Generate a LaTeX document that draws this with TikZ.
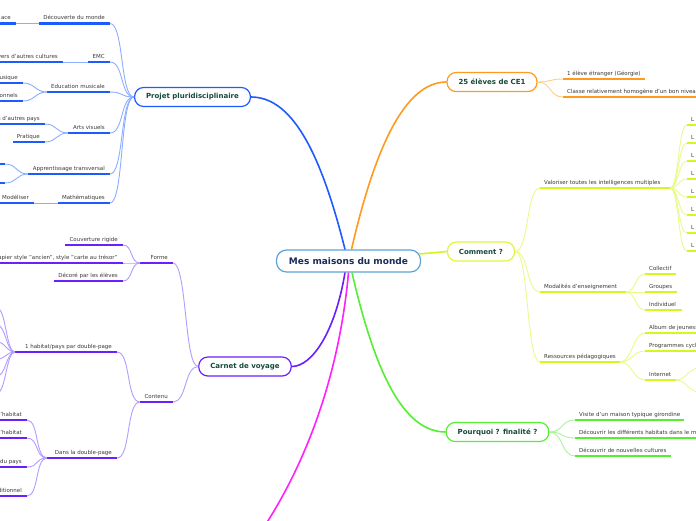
\documentclass[tikz,border=0pt]{standalone}
\usepackage{fontspec}
\setmainfont{DejaVu Sans}
\definecolor{blueM}{HTML}{1E5BFF}
\definecolor{blueL}{HTML}{8CAEFF}
\definecolor{orM}{HTML}{FF9A1F}
\definecolor{orL}{HTML}{FFCF85}
\definecolor{yeM}{HTML}{D7F51E}
\definecolor{yeL}{HTML}{E9FB8A}
\definecolor{yeN}{HTML}{E2F53A}
\definecolor{grM}{HTML}{55EE33}
\definecolor{grL}{HTML}{A8F59A}
\definecolor{puM}{HTML}{6A1FFF}
\definecolor{puL}{HTML}{B49CFF}
\definecolor{maM}{HTML}{FF1FFF}
\definecolor{ceB}{HTML}{5BA4DA}
\definecolor{ceT}{HTML}{1C2B59}
\definecolor{noT}{HTML}{164A3A}
\definecolor{leT}{HTML}{3A3A3A}
\newcommand\leafL[6]{%
 \coordinate (#1L) at (#2,#4);
 \coordinate (#1R) at (#3,#4);
 \draw[ul=#5] (#1L) -- (#1R);
 \node[lbl,anchor=base east] (#1) at ([shift={(-5,-4)}]#1R) {#6};}
\newcommand\leafR[6]{%
 \coordinate (#1L) at (#2,#4);
 \coordinate (#1R) at (#3,#4);
 \draw[ul=#5] (#1L) -- (#1R);
 \node[lbl,anchor=base west] (#1) at ([shift={(4,-4)}]#1L) {#6};}
\tikzset{
 lbl/.style={font=\fontsize{5.5}{6}\selectfont, text=leT, inner sep=0pt},
 ul/.style={line width=2.2pt, draw=#1},
 cn/.style={line width=0.9pt, draw=#1},
 toL/.style={out=180,in=0,distance=#1},
 toR/.style={out=0,in=180,distance=#1},
 mainnode/.style={draw=#1, rounded corners=9pt, fill=white, line width=1.2pt,
   font=\bfseries\fontsize{7}{8}\selectfont, text=noT, inner xsep=11.5pt,
   inner ysep=0pt, minimum height=19pt},
 branch/.style={line width=1.6pt, draw=#1},
}
\begin{document}
\begin{tikzpicture}[x=1pt,y=-1pt]
\useasboundingbox (0,0) rectangle (696,520);
\fill[white] (0,0) rectangle (696,520);

% main nodes
\node[draw=ceB, rounded corners=10pt, fill=white, line width=1.2pt,
  font=\bfseries\fontsize{9}{10}\selectfont, text=ceT, inner xsep=12.5pt,
  inner ysep=0pt, minimum height=22pt] (centre) at (348.5,261) {Mes maisons du monde};
\node[mainnode=blueM] (projet) at (192.5,97) {Projet pluridisciplinaire};
\node[mainnode=orM] (eleves) at (492,82) {25 élèves de CE1};
\node[mainnode=yeN] (comment) at (481,251.5) {Comment ?};
\node[mainnode=grM] (pourquoi) at (497.5,432) {Pourquoi ? finalité ?};
\node[mainnode=puM] (carnet) at (245,366.5) {Carnet de voyage};
\coordinate (mag) at (262,530);

% main branches
\draw[branch=blueM] ([xshift=-3.5pt]centre.north) .. controls +(-25,-100) and +(40,0) .. (projet.east);
\draw[branch=orM] ([xshift=3pt]centre.north) .. controls +(23,-100) and +(-42,0) .. (eleves.west);
\draw[branch=yeM] ([shift={(-2,-7)}]centre.east) -- (comment.west);
\draw[branch=grM] ([xshift=3.5pt]centre.south) .. controls +(23,100) and +(-42,0) .. (pourquoi.west);
\draw[branch=puM] ([xshift=-3.5pt]centre.south) .. controls +(-10,60) and +(20,0) .. (carnet.east);
\draw[branch=maM] ([xshift=0pt]centre.south) .. controls +(-10,110) and +(40,-60) .. (mag);

% ---------- Projet pluridisciplinaire ----------
\leafL{dec}{39}{110}{23.5}{blueM}{Découverte du monde}
\leafL{ace}{-20}{16}{23.5}{blueM}{ace}
\leafL{emc}{88}{110}{62}{blueM}{EMC}
\leafL{cult}{-20}{63}{62}{blueM}{vers d'autres cultures}
\leafL{edm}{47}{110}{92}{blueM}{Education musicale}
\leafL{musq}{-20}{23}{83}{blueM}{usique}
\leafL{onn}{-20}{23}{101}{blueM}{onnels}
\leafL{arts}{68}{110}{133}{blueM}{Arts visuels}
\leafL{pays}{-20}{45}{124}{blueM}{s d'autres pays}
\leafL{prat}{13}{45}{142}{blueM}{Pratique}
\leafL{app}{28}{110}{174}{blueM}{Apprentissage transversal}
\coordinate (apa) at (-20,164); \coordinate (apaR) at (5,164);
\coordinate (apb) at (-20,183); \coordinate (apbR) at (5,183);
\draw[ul=blueM] (apa) -- (apaR);
\draw[ul=blueM] (apb) -- (apbR);
\leafL{math}{58}{110}{203}{blueM}{Mathématiques}
\leafL{mod}{-20}{34}{203}{blueM}{Modéliser}

\foreach \n in {dec,emc,edm,arts,app,math}
  \draw[cn=blueL] (projet.west) to[toL=14pt] (\n R);
\draw[cn=blueL] (decL) -- (aceR);
\draw[cn=blueL] (emcL) -- (cultR);
\draw[cn=blueL] (edmL) to[toL=12pt] (musqR);
\draw[cn=blueL] (edmL) to[toL=12pt] (onnR);
\draw[cn=blueL] (artsL) to[toL=12pt] (paysR);
\draw[cn=blueL] (artsL) to[toL=12pt] (pratR);
\draw[cn=blueL] (appL) to[toL=12pt] (apaR);
\draw[cn=blueL] (appL) to[toL=12pt] (apbR);
\draw[cn=blueL] (mathL) -- (modR);

% ---------- Carnet de voyage ----------
\leafL{forme}{140}{173}{263}{puM}{Forme}
\leafL{couv}{65}{123}{245}{puM}{Couverture rigide}
\leafL{pap}{-20}{123}{263}{puM}{apier style "ancien", style "carte au trésor"}
\leafL{deco}{54}{123}{281}{puM}{Décoré par les élèves}
\leafL{cont}{140}{173}{402}{puM}{Contenu}
\leafL{hab}{15}{117}{352}{puM}{1 habitat/pays par double-page}
\leafL{dans}{47}{117}{458}{puM}{Dans la double-page}
\leafL{da}{-20}{27}{420}{puM}{l'habitat}
\leafL{db}{-20}{27}{438}{puM}{l'habitat}
\leafL{dc}{-20}{27}{467}{puM}{du pays}
\leafL{dd}{-20}{27}{496}{puM}{ditionnel}
\foreach \y [count=\i] in {308,325,342,359,376,393}
  \coordinate (h\i) at (-3,\y);

\draw[cn=puL] (carnet.west) to[toL=14pt] (formeR);
\draw[cn=puL] (carnet.west) to[toL=14pt] (contR);
\foreach \n in {couv,pap,deco}
  \draw[cn=puL] (formeL) to[toL=10pt] (\n R);
\draw[cn=puL] (contL) to[toL=14pt] (habR);
\draw[cn=puL] (contL) to[toL=14pt] (dansR);
\foreach \i in {1,...,6}
  \draw[cn=puL] (habL) to[toL=9pt] (h\i);
\foreach \n in {da,db,dc,dd}
  \draw[cn=puL] (dansL) to[toL=12pt] (\n R);

% ---------- 25 eleves ----------
\leafR{ea}{563}{645}{79}{orM}{1 élève étranger (Géorgie)}
\leafR{eb}{563}{760}{97}{orM}{Classe relativement homogène d'un bon niveau}
\draw[cn=orL] (eleves.east) to[toR=14pt] (eaL);
\draw[cn=orL] (eleves.east) to[toR=14pt] (ebL);

% ---------- Comment ----------
\leafR{val}{540}{670}{188}{yeM}{Valoriser toutes les intelligences multiples}
\foreach \y [count=\i] in {125,143,161,179,197,215,233,251}
  {\leafR{v\i}{687}{720}{\y}{yeM}{L}}
\leafR{moda}{540}{626}{292}{yeM}{Modalités d'enseignement}
\leafR{col}{645}{676}{274}{yeM}{Collectif}
\leafR{grp}{645}{677}{292}{yeM}{Groupes}
\leafR{ind}{645}{682}{310}{yeM}{Individuel}
\leafR{res}{540}{620}{362}{yeM}{Ressources pédagogiques}
\leafR{alb}{645}{760}{333}{yeM}{Album de jeunesse}
\leafR{prog}{645}{760}{351}{yeM}{Programmes cycle}
\leafR{int}{645}{676}{380}{yeM}{Internet}
\coordinate (ia) at (699,368);
\coordinate (ib) at (699,392);

\foreach \n in {val,moda,res}
  \draw[cn=yeL] (comment.east) to[toR=14pt] (\n L);
\foreach \i in {1,...,8}
  \draw[cn=yeL] (valR) to[toR=9pt] (v\i L);
\foreach \n in {col,grp,ind}
  \draw[cn=yeL] (modaR) to[toR=10pt] (\n L);
\foreach \n in {alb,prog,int}
  \draw[cn=yeL] (resR) to[toR=12pt] (\n L);
\draw[cn=yeL] (intR) to[toR=10pt] (ia);
\draw[cn=yeL] (intR) to[toR=10pt] (ib);

% ---------- Pourquoi ----------
\leafR{vis}{575}{684}{420}{grM}{Visite d'un maison typique girondine}
\leafR{dh}{575}{760}{438}{grM}{Découvrir les différents habitats dans le monde}
\leafR{dnc}{575}{671}{456}{grM}{Découvrir de nouvelles cultures}
\foreach \n in {vis,dh,dnc}
  \draw[cn=grL] (pourquoi.east) to[toR=14pt] (\n L);
\end{tikzpicture}
\end{document}
